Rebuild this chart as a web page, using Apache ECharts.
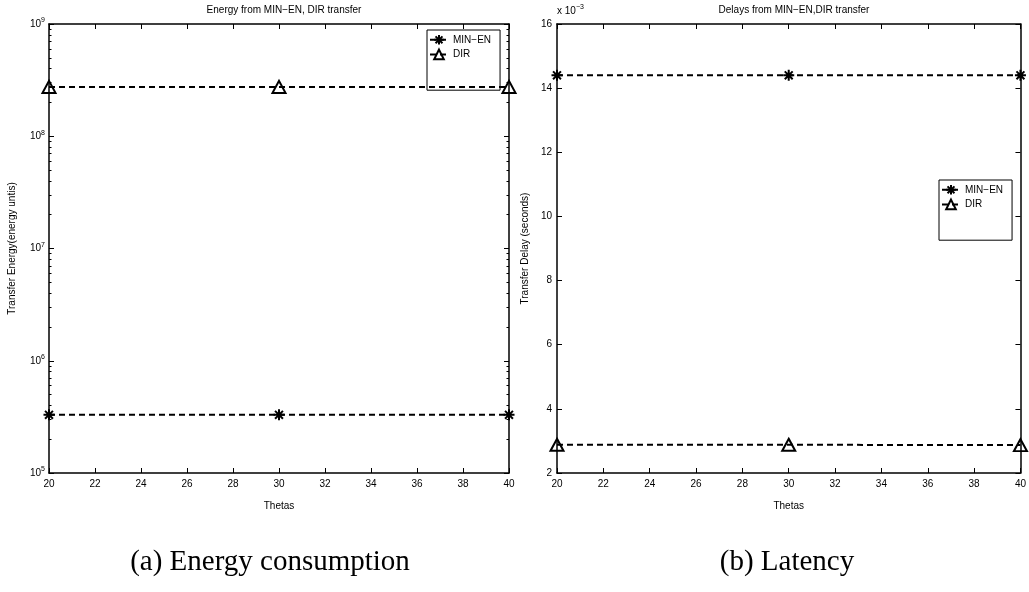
<!DOCTYPE html>
<html>
<head>
<meta charset="utf-8">
<script src="https://cdn.jsdelivr.net/npm/echarts@6/dist/echarts.min.js"></script>
<style>
  html, body { margin: 0; padding: 0; background: #fff; }
  #chart { width: 1029px; height: 592px; }
</style>
</head>
<body>
<div id="chart"></div>
<script>
// x axis: thetas
const thetas = [20, 30, 40]
const xTicks = [20, 22, 24, 26, 28, 30, 32, 34, 36, 38, 40]

// (a) energy, log scale
const energyMinEn = [3.3e5, 3.3e5, 3.3e5]
const energyDir = [2.75e8, 2.75e8, 2.75e8]
const energyDecades = [1e5, 1e6, 1e7, 1e8, 1e9]

// (b) latency, seconds
const delayMinEn = [14.4e-3, 14.4e-3, 14.4e-3]
const delayDir = [2.88e-3, 2.88e-3, 2.87e-3]

const names = ['MIN\u2212EN', 'DIR']
const font = 'Liberation Sans, Arial, sans-serif'

// minor log ticks 2..9 x 10^n
const minorTicks = []
energyDecades.slice(0, -1).forEach(d => {
  for (let k = 2; k <= 9; k++) minorTicks.push(d * k)
})

const chart = echarts.init(document.getElementById('chart'))

const starPath = 'path://M0,-5L0,5M-5,0L5,0M-3.6,-3.6L3.6,3.6M-3.6,3.6L3.6,-3.6'
const black = '#000'
const lbl = { color: black, fontSize: 10, fontFamily: font }

function xAxisPair(gi) {
  return [
    {
      gridIndex: gi, type: 'value', min: 20, max: 40, interval: 2, position: 'bottom',
      name: 'Thetas', nameLocation: 'middle', nameGap: 28,
      nameTextStyle: lbl,
      axisLine: { lineStyle: { color: black, width: 1.5 } },
      axisTick: { inside: true, length: 5, lineStyle: { color: black } },
      axisLabel: Object.assign({ margin: 6 }, lbl),
      splitLine: { show: false }
    },
    {
      gridIndex: gi, type: 'value', min: 20, max: 40, interval: 2, position: 'top',
      axisLine: { lineStyle: { color: black, width: 1.5 } },
      axisTick: { inside: true, length: 5, lineStyle: { color: black } },
      axisLabel: { show: false },
      splitLine: { show: false }
    }
  ]
}

function line(name, xi, yi, vals, symbol, size, bw) {
  return {
    name: name, type: 'line', xAxisIndex: xi, yAxisIndex: yi,
    data: thetas.map((t, i) => [t, vals[i]]),
    symbol: symbol, symbolSize: size, showAllSymbol: true, clip: false,
    lineStyle: { color: black, width: 2, type: [6, 4] },
    itemStyle: { color: symbol === 'triangle' ? 'rgba(0,0,0,0)' : black, borderColor: black, borderWidth: bw },
    emphasis: { disabled: true },
    z: 5
  }
}

const logSup = v => '{b|10}{s|' + Math.round(Math.log10(v)) + '}'

function legendAt(x, y) {
  return {
    data: names, left: x, top: y, orient: 'vertical',
    itemWidth: 18, itemHeight: 12, itemGap: 3,
    padding: [4, 9, 30, 2],
    borderColor: black, borderWidth: 1, borderRadius: 0, backgroundColor: '#fff',
    textStyle: lbl, selectedMode: false
  }
}

const option = {
  animation: false,
  backgroundColor: '#fff',
  textStyle: { fontFamily: font },
  title: [
    { text: 'Energy from MIN\u2212EN, DIR transfer', left: 279, top: 0, textAlign: 'center',
      textStyle: { fontSize: 10, fontWeight: 'normal', color: black, fontFamily: font } },
    { text: 'Delays from MIN\u2212EN,DIR transfer', left: 789, top: 0, textAlign: 'center',
      textStyle: { fontSize: 10, fontWeight: 'normal', color: black, fontFamily: font } }
  ],
  grid: [
    { left: 49, top: 24, width: 460, height: 449 },
    { left: 557, top: 24, width: 464, height: 449 }
  ],
  legend: [legendAt(427, 30), legendAt(939, 180)],
  xAxis: xAxisPair(0).concat(xAxisPair(1)),
  yAxis: [
    {
      gridIndex: 0, type: 'log', logBase: 10, min: 1e5, max: 1e9, position: 'left',
      name: 'Transfer Energy(energy untis)', nameLocation: 'middle', nameGap: 32, nameRotate: 90,
      nameTextStyle: lbl,
      axisLine: { lineStyle: { color: black, width: 1.5 } },
      axisTick: { inside: true, length: 5, lineStyle: { color: black }, customValues: energyDecades },
      axisLabel: {
        margin: 4, customValues: energyDecades, formatter: logSup,
        rich: {
          b: { fontSize: 10, color: black, fontFamily: font },
          s: { fontSize: 7, color: black, fontFamily: font, padding: [0, 0, 7, 0] }
        }
      },
      splitLine: { show: false }
    },
    {
      gridIndex: 0, type: 'log', logBase: 10, min: 1e5, max: 1e9, position: 'right',
      axisLine: { lineStyle: { color: black, width: 1.5 } },
      axisTick: { inside: true, length: 5, lineStyle: { color: black }, customValues: energyDecades },
      axisLabel: { show: false },
      splitLine: { show: false }
    },
    {
      gridIndex: 0, type: 'log', logBase: 10, min: 1e5, max: 1e9, position: 'left',
      axisLine: { show: false },
      axisTick: { inside: true, length: 2.5, lineStyle: { color: black }, customValues: minorTicks },
      axisLabel: { show: false },
      splitLine: { show: false }
    },
    {
      gridIndex: 0, type: 'log', logBase: 10, min: 1e5, max: 1e9, position: 'right',
      axisLine: { show: false },
      axisTick: { inside: true, length: 2.5, lineStyle: { color: black }, customValues: minorTicks },
      axisLabel: { show: false },
      splitLine: { show: false }
    },
    {
      gridIndex: 1, type: 'value', min: 0.002, max: 0.016, interval: 0.002, position: 'left',
      name: 'Transfer Delay (seconds)', nameLocation: 'middle', nameGap: 27, nameRotate: 90,
      nameTextStyle: lbl,
      axisLine: { lineStyle: { color: black, width: 1.5 } },
      axisTick: { inside: true, length: 5, lineStyle: { color: black } },
      axisLabel: Object.assign({ margin: 5, formatter: v => String(Math.round(v * 1000)) }, lbl),
      splitLine: { show: false }
    },
    {
      gridIndex: 1, type: 'value', min: 0.002, max: 0.016, interval: 0.002, position: 'right',
      axisLine: { lineStyle: { color: black, width: 1.5 } },
      axisTick: { inside: true, length: 5, lineStyle: { color: black } },
      axisLabel: { show: false },
      splitLine: { show: false }
    }
  ],
  series: [
    line(names[0], 0, 0, energyMinEn, starPath, 11, 2),
    line(names[1], 0, 0, energyDir, 'triangle', [13, 12], 2),
    line(names[0], 2, 4, delayMinEn, starPath, 11, 2),
    line(names[1], 2, 4, delayDir, 'triangle', [13, 12], 2)
  ],
  graphic: [
    {
      type: 'text', left: 557, top: 4,
      style: {
        text: '{b|x 10}{s|\u22123}',
        rich: {
          b: { fontSize: 10, fill: black, fontFamily: font },
          s: { fontSize: 7, fill: black, fontFamily: font, padding: [0, 0, 7, 0] }
        }
      }
    },
    {
      type: 'text', x: 270, y: 562,
      style: { text: '(a) Energy consumption', fill: black, fontSize: 29, fontFamily: 'Liberation Serif, serif', align: 'center', verticalAlign: 'middle' }
    },
    {
      type: 'text', x: 787, y: 562,
      style: { text: '(b) Latency', fill: black, fontSize: 29, fontFamily: 'Liberation Serif, serif', align: 'center', verticalAlign: 'middle' }
    }
  ]
}

chart.setOption(option)
</script>
</body>
</html>
